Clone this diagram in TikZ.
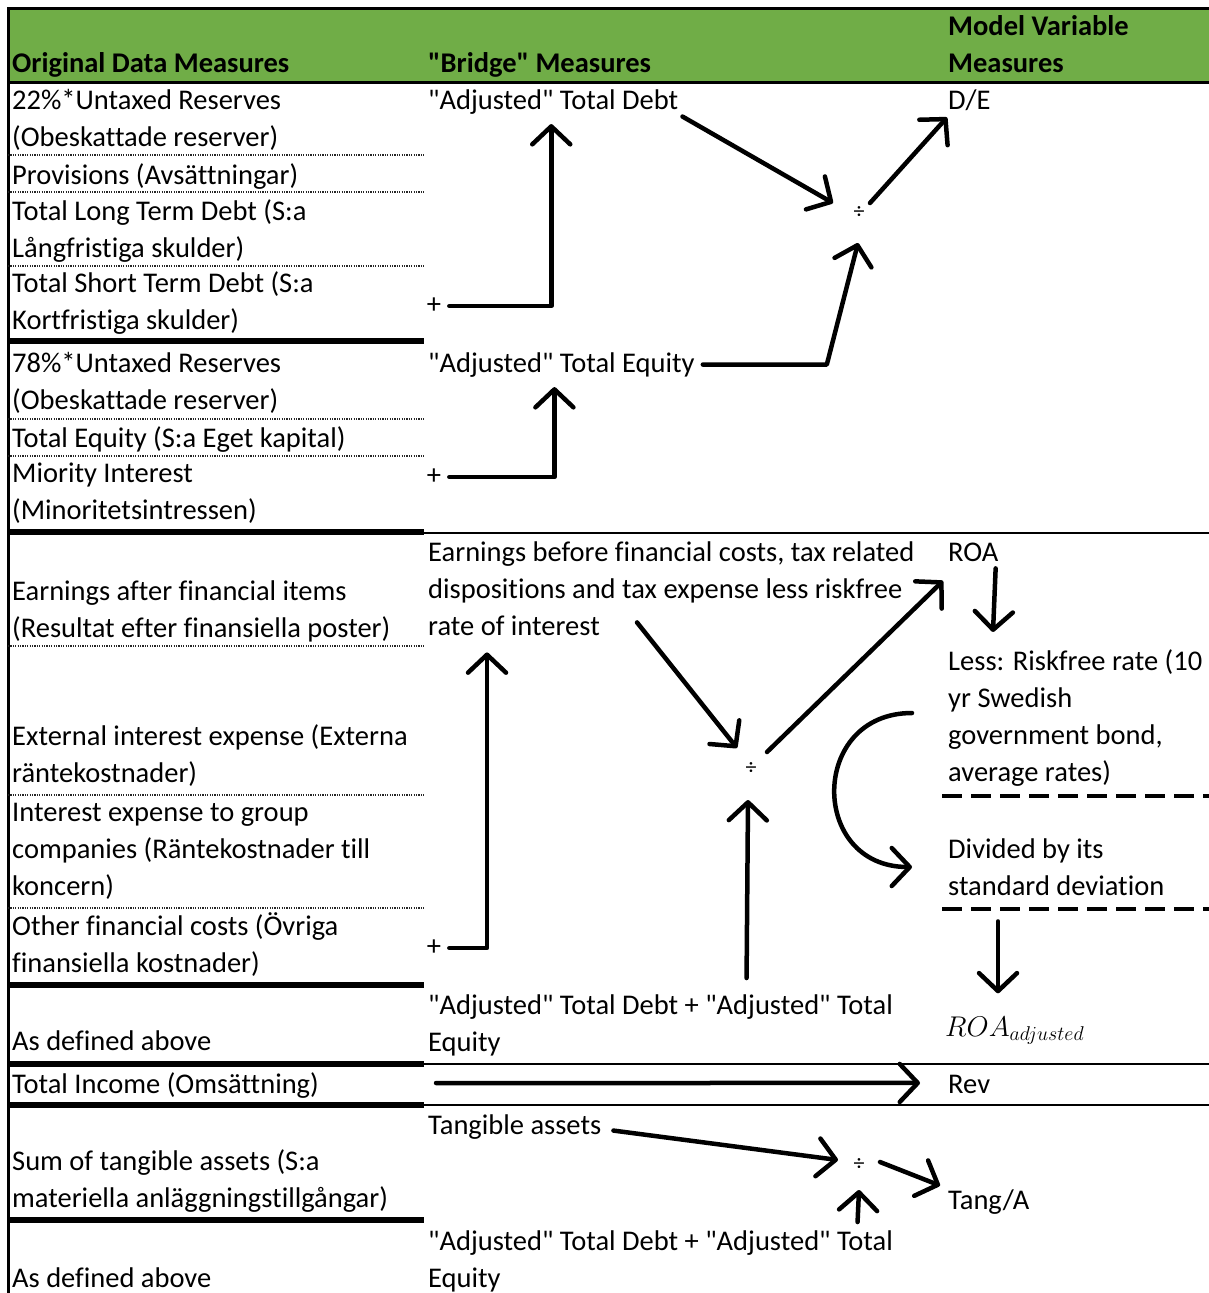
\RequirePackage{fix-cm}
\documentclass[tikz,border=0pt]{standalone}
\usepackage{fontspec}
\setmainfont{Carlito}[Ligatures={TeXOff,NoCommon}]
\usetikzlibrary{arrows.meta,calc}
\definecolor{hdrgreen}{HTML}{70AD47}

\newcommand{\bodyfont}{\fontsize{28.5}{37}\selectfont}
\newcommand{\divfont}{\fontsize{22}{24}\selectfont}

\begin{document}
\begin{tikzpicture}[
  x=1pt, y=-1pt,
  every node/.style={font=\bodyfont},
  txt/.style={anchor=base west, inner sep=0pt, align=left},
  hdr/.style={txt, font=\bodyfont\bfseries},
  plus/.style={inner sep=0pt},
  divop/.style={inner sep=0pt, font=\divfont},
  flow/.style={line width=4.5pt, line cap=round, line join=round,
               -{Straight Barb[length=18pt,width=38pt,round]}},
  thickrule/.style={line width=6pt},
  thinrule/.style={line width=2pt},
  dotrule/.style={line width=1.6pt, dash pattern=on 1.2pt off 1.2pt, black!85},
  dashrule/.style={line width=4pt, dash pattern=on 20pt off 9pt}
]
\useasboundingbox (0,0) rectangle (1209,1293);

% Header
\fill[hdrgreen] (8,8) rectangle (1209,82);
\draw[line width=3pt] (8,1293) -- (8,8) -- (1209,8);
\draw[line width=3pt] (8,82) -- (1209,82);
\node[hdr] (hOrig)   at (12,72)  {Original Data Measures};
\node[hdr] (hBridge) at (428,72) {"Bridge" Measures};
\node[hdr] (hModel)  at (948,72) {Model Variable\\Measures};

% Rules in the first column
\foreach \yy in {155,192,266,419,456,646,795,908}
  \draw[dotrule] (8,\yy) -- (424,\yy);
\foreach \yy in {341,532,985,1064,1105,1220}
  \draw[thickrule] (8,\yy) -- (424,\yy);
\foreach \yy in {533,1064,1105}
  \draw[thinrule] (424,\yy) -- (1209,\yy);
\foreach \yy in {796,909}
  \draw[dashrule] (942,\yy) -- (1209,\yy);

% Original data measures (multi-line nodes sit on their last line)
\node[txt] (o1)  at (12,146)  {22\%*Untaxed Reserves\\(Obeskattade reserver)};
\node[txt] (o2)  at (12,184)  {Provisions (Avsättningar)};
\node[txt] (o3)  at (12,257)  {Total Long Term Debt (S:a\\Långfristiga skulder)};
\node[txt] (o4)  at (12,329)  {Total Short Term Debt (S:a\\Kortfristiga skulder)};
\node[txt] (o5)  at (12,409)  {78\%*Untaxed Reserves\\(Obeskattade reserver)};
\node[txt] (o6)  at (12,447)  {Total Equity (S:a Eget kapital)};
\node[txt] (o7)  at (12,519)  {Miority Interest\\(Minoritetsintressen)};
\node[txt] (o8)  at (12,637)  {Earnings after financial items\\(Resultat efter finansiella poster)};
\node[txt] (o9)  at (12,782)  {External interest expense (Externa\\räntekostnader)};
\node[txt] (o10) at (12,895)  {Interest expense to group\\companies (Räntekostnader till\\koncern)};
\node[txt] (o11) at (12,972)  {Other financial costs (Övriga\\finansiella kostnader)};
\node[txt] (o12) at (12,1050) {As defined above};
\node[txt] (o13) at (12,1093) {Total Income (Omsättning)};
\node[txt] (o14) at (12,1207) {Sum of tangible assets (S:a\\materiella anläggningstillgångar)};
\node[txt] (o15) at (12,1287) {As defined above};

% Bridge measures
\node[txt]  (adjD)   at (428,109)  {"Adjusted" Total Debt};
\node[plus] (plusD)  at (434,306)  {+};
\node[txt]  (adjE)   at (428,372)  {"Adjusted" Total Equity};
\node[plus] (plusE)  at (434,477)  {+};
\node[txt]  (ebit)   at (428,635)  {Earnings before financial costs, tax related\\dispositions and tax expense less riskfree\\rate of interest};
\node[plus] (plusEb) at (434,948)  {+};
\node[txt]  (sumDE)  at (428,1051) {"Adjusted" Total Debt + "Adjusted" Total\\Equity};
\node[txt]  (tang)   at (428,1134) {Tangible assets};
\node[txt]  (sumDE2) at (428,1287) {"Adjusted" Total Debt + "Adjusted" Total\\Equity};

% Division points
\node[divop] (divDE)   at (859,213)  {÷};
\node[divop] (divROA)  at (751,769)  {÷};
\node[divop] (divTang) at (859,1165) {÷};

% Model variable measures
\node[txt] (de)     at (948,109)  {D/E};
\node[txt] (roa)    at (948,561)  {ROA};
\node[txt] (lessRf) at (948,781)  {Less: Riskfree rate (10\\yr Swedish\\government bond,\\average rates)};
\node[txt] (divSd)  at (948,895)  {Divided by its\\standard deviation};
\node[txt] (roaAdj) at (945,1036) {$ROA_{adjusted}$};
\node[txt] (rev)    at (948,1093) {Rev};
\node[txt] (tangA)  at (948,1209) {Tang/A};

% D/E
\draw[flow] ($(plusD.east)+(8,0)$) -| ($(adjD.south)+(-2,10)$);
\draw[flow] ($(plusE.east)+(8,0)$) -| ($(adjE.south)+(-7,10)$);
\draw[flow] ($(adjD.east)+(4,15)$) -- ($(divDE)+(-26,-10)$);
\draw[flow] ($(adjE.east)+(8,0)$) -- ++(124,0) -- ($(divDE)+(-1,30)$);
\draw[flow] ($(divDE)+(11,-10)$) -- ($(de.south west)+(-1,7)$);

% ROA
\draw[flow] ($(plusEb.east)+(8,0)$) -| ($(ebit.south west)+(59,17)$);
\draw[flow] ($(ebit.south west)+(209,-13)$) -- ($(divROA)+(-14,-21)$);
\draw[flow] ($(sumDE.north)+(86,-16)$) -- ($(divROA)+(-3,31)$);
\draw[flow] ($(divROA)+(16,-17)$) -- ($(roa.west)+(-5,29)$);
\draw[flow] ($(roa.south east)+(-3,7)$) -- ($(lessRf.north west)+(45,-17)$);
\coordinate (arcTop) at (912,713);
\coordinate (arcBot) at (912,867);
\draw[flow] (arcTop) .. controls (809,713) and (809,867) .. (arcBot);
\draw[flow] ($(divSd.south west)+(50,26)$) -- ($(roaAdj.north west)+(53,-23)$);

% Rev
\draw[flow] ($(o13.east)+(117,-2)$) -- ($(rev.west)+(-28,-1)$);

% Tang/A
\draw[flow] ($(tang.east)+(12,4)$) -- ($(divTang)+(-21,-5)$);
\draw[flow] ($(sumDE2.north)+(197,-8)$) -- ($(divTang)+(0,25)$);
\draw[flow] ($(divTang)+(21,-3)$) -- ($(tangA.west)+(-8,-16)$);

\end{tikzpicture}
\end{document}
